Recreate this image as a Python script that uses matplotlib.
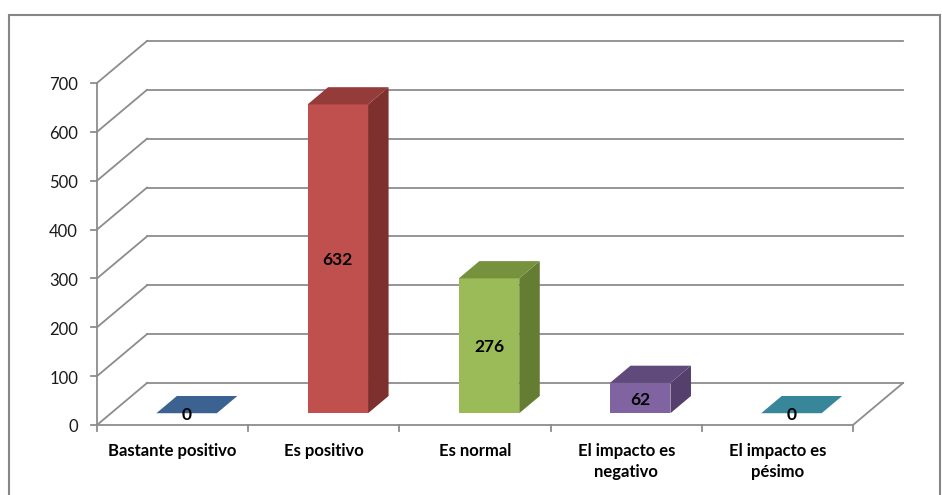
import matplotlib
matplotlib.use("Agg")
import matplotlib.pyplot as plt
from matplotlib.patches import Polygon, Rectangle

plt.rcParams['font.family'] = ['Lato', 'DejaVu Sans']

categories = ["Bastante positivo", "Es positivo", "Es normal",
              "El impacto es\nnegativo", "El impacto es\npésimo"]
values = [0, 632, 276, 62, 0]
y_ticks = [0, 100, 200, 300, 400, 500, 600, 700]

front_colors = ["#4A7EBB", "#C0504D", "#9BBB59", "#8064A2", "#4BACC6"]
top_colors = ["#3B6291", "#953B39", "#76923C", "#5F4A7B", "#37869A"]
side_colors = ["#33557F", "#7E302E", "#647D33", "#553F6D", "#2F7384"]

# oblique depth of the floor, in category units and value units
DX, DY = 0.331, 86.0
BAR_D0, BAR_D1 = 0.28, 0.69
BAR_W = 0.40
GRID = "#8C8C8C"

fig = plt.figure(figsize=(9.42, 4.95), dpi=100)
ax = fig.add_axes([0, 0, 1, 1])
ax.set_xlim(-1.1415, 5.0886)
ax.set_ylim(-143.3, 869.8)
ax.axis("off")

# outer chart border
fig.patches.append(Rectangle((8.5 / 942, -0.1), (940 - 8.5) / 942, 1.1 - 14.5 / 495,
                             transform=fig.transFigure, fill=False,
                             edgecolor="#868686", lw=1.5))


def proj(x, y, d):
    return (x + d * DX, y + d * DY)


left, right = -0.5, len(categories) - 0.5

# back wall and side wall gridlines
for v in y_ticks:
    bx0, by0 = proj(left, v, 1)
    bx1, _ = proj(right, v, 1)
    ax.plot([bx0, bx1], [by0, by0], color=GRID, lw=1.3, zorder=1)
    ax.plot([left, bx0], [v, by0], color=GRID, lw=1.3, zorder=1)

# floor edges
ax.plot([left, right], [0, 0], color=GRID, lw=1.3, zorder=1)
rx, ry = proj(right, 0, 1)
ax.plot([right, rx], [0, ry], color=GRID, lw=1.3, zorder=1)

# value axis line and ticks
ax.plot([left, left], [0, y_ticks[-1]], color=GRID, lw=1.3, zorder=1)
for v in y_ticks:
    ax.plot([left - 0.04, left], [v, v], color=GRID, lw=1.3, zorder=1)
    ax.text(left - 0.125, v - 5, str(v), ha="right", va="center",
            fontsize=12, color="#1a1a1a")

# category ticks and labels
for i in range(len(categories) + 1):
    ax.plot([left + i, left + i], [0, -12], color=GRID, lw=1.3, zorder=1)
for i, lab in enumerate(categories):
    ax.text(i, -37, lab, ha="center", va="top", fontsize=12,
            fontweight="bold", linespacing=1.35, color="#000000")

# 3D columns
for i, v in enumerate(values):
    x0, x1 = i - BAR_W / 2, i + BAR_W / 2
    f = [proj(x0, 0, BAR_D0), proj(x1, 0, BAR_D0),
         proj(x1, v, BAR_D0), proj(x0, v, BAR_D0)]
    s = [proj(x1, 0, BAR_D0), proj(x1, 0, BAR_D1),
         proj(x1, v, BAR_D1), proj(x1, v, BAR_D0)]
    t = [proj(x0, v, BAR_D0), proj(x1, v, BAR_D0),
         proj(x1, v, BAR_D1), proj(x0, v, BAR_D1)]
    z = 3 + i * 0.01
    if v > 0:
        ax.add_patch(Polygon(f, closed=True, facecolor=front_colors[i],
                             edgecolor="none", zorder=z))
        ax.add_patch(Polygon(s, closed=True, facecolor=side_colors[i],
                             edgecolor="none", zorder=z))
    ax.add_patch(Polygon(t, closed=True, facecolor=top_colors[i],
                         edgecolor="none", zorder=z))
    cx, cy = proj(i, v / 2, BAR_D0)
    ax.text(cx, cy - 3, str(v), ha="center", va="center", fontsize=12.5,
            fontweight="bold", color="#000000", zorder=5)

fig.savefig("out.png", dpi=100)
